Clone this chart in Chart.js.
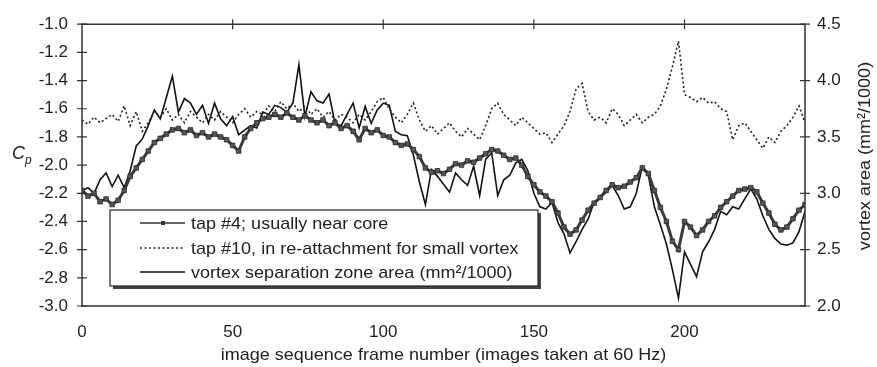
<!DOCTYPE html>
<html>
<head>
<meta charset="utf-8">
<script src="https://cdn.jsdelivr.net/npm/chart.js@4.4.1/dist/chart.umd.min.js"></script>
<style>
  html, body { margin: 0; padding: 0; background: #fff; }
  canvas { display: block; }
</style>
</head>
<body>
<canvas id="chart" width="877" height="367"></canvas>
<script>
// Frame index (every second image frame)
const frames = [];
for (let f = 0; f <= 240; f += 2) frames.push(f);

// Pressure coefficient at tap #4 (usually near the vortex core)
const tap4Cp = [
  -2.18, -2.22, -2.20, -2.26, -2.24, -2.28, -2.25, -2.18, -2.08, -2.02,
  -1.96, -1.90, -1.84, -1.81, -1.78, -1.75, -1.74, -1.77, -1.75, -1.79,
  -1.77, -1.80, -1.78, -1.80, -1.82, -1.86, -1.90, -1.80, -1.74, -1.70,
  -1.67, -1.66, -1.64, -1.66, -1.63, -1.66, -1.68, -1.65, -1.68, -1.70,
  -1.68, -1.72, -1.70, -1.74, -1.72, -1.76, -1.82, -1.74, -1.77, -1.75,
  -1.79, -1.80, -1.84, -1.86, -1.85, -1.89, -1.94, -2.02, -2.05, -2.04,
  -2.06, -2.03, -1.99, -2.00, -1.97, -1.98, -1.95, -1.92, -1.89, -1.90,
  -1.93, -1.96, -1.95, -2.00, -2.08, -2.14, -2.19, -2.22, -2.26, -2.34,
  -2.44, -2.49, -2.46, -2.39, -2.32, -2.27, -2.23, -2.18, -2.14, -2.16,
  -2.15, -2.12, -2.09, -2.02, -2.06, -2.18, -2.30, -2.40, -2.54, -2.60,
  -2.40, -2.44, -2.50, -2.46, -2.40, -2.36, -2.30, -2.26, -2.22, -2.18,
  -2.17, -2.16, -2.19, -2.27, -2.34, -2.42, -2.46, -2.44, -2.38, -2.32,
  -2.28
];

// Pressure coefficient at tap #10 (re-attachment region of the small vortex)
const tap10Cp = [
  -1.68, -1.71, -1.66, -1.70, -1.67, -1.64, -1.69, -1.58, -1.72, -1.62,
  -1.76, -1.70, -1.62, -1.66, -1.60, -1.68, -1.64, -1.70, -1.62, -1.66,
  -1.70, -1.64, -1.68, -1.62, -1.66, -1.70, -1.64, -1.60, -1.66, -1.62,
  -1.64, -1.58, -1.62, -1.55, -1.60, -1.56, -1.62, -1.58, -1.64, -1.60,
  -1.66, -1.62, -1.68, -1.64, -1.66, -1.70, -1.64, -1.68, -1.62, -1.55,
  -1.52, -1.60, -1.66, -1.70, -1.64, -1.56, -1.68, -1.76, -1.72, -1.78,
  -1.74, -1.70, -1.76, -1.80, -1.74, -1.78, -1.82, -1.72, -1.60, -1.56,
  -1.64, -1.68, -1.72, -1.66, -1.70, -1.74, -1.78, -1.77, -1.84, -1.78,
  -1.72, -1.62, -1.46, -1.42, -1.62, -1.68, -1.66, -1.70, -1.60, -1.64,
  -1.72, -1.68, -1.64, -1.70, -1.66, -1.64, -1.58, -1.46, -1.30, -1.12,
  -1.50, -1.52, -1.55, -1.52, -1.56, -1.55, -1.60, -1.62, -1.82, -1.72,
  -1.70, -1.76, -1.82, -1.88, -1.80, -1.84, -1.76, -1.72, -1.66, -1.58,
  -1.70
];

// Vortex separation zone area (mm^2/1000), right-hand axis
const vortexArea = [
  3.02, 3.05, 3.00, 3.12, 3.18, 3.06, 3.16, 3.05, 3.20, 3.42,
  3.48, 3.60, 3.74, 3.66, 3.85, 4.04, 3.72, 3.84, 3.80, 3.70,
  3.78, 3.62, 3.80, 3.66, 3.60, 3.68, 3.52, 3.56, 3.60, 3.58,
  3.72, 3.70, 3.78, 3.76, 3.72, 3.80, 4.14, 3.68, 3.90, 3.82,
  3.80, 3.88, 3.62, 3.60, 3.70, 3.80, 3.58, 3.77, 3.62, 3.74,
  3.80, 3.78, 3.55, 3.52, 3.51, 3.34, 3.10, 2.90, 3.21, 3.15,
  3.08, 3.01, 3.18, 3.12, 3.07, 3.24, 2.98, 3.30, 3.36, 2.98,
  3.12, 3.16, 3.27, 3.30, 3.20, 3.00, 2.88, 2.86, 2.92, 2.74,
  2.64, 2.47, 2.57, 2.68, 2.77, 2.92, 2.96, 3.01, 3.07, 2.98,
  2.86, 2.88, 3.00, 3.24, 3.16, 2.88, 2.72, 2.55, 2.32, 2.07,
  2.48, 2.37, 2.26, 2.48, 2.57, 2.68, 2.84, 2.81, 2.88, 2.86,
  2.95, 3.04, 2.95, 2.80, 2.68, 2.60, 2.55, 2.54, 2.56, 2.66,
  2.84
];

// Axis tick values
const frameTicks = [0, 50, 100, 150, 200];
const topFrameTicks = [50, 100, 150, 200];
const cpTicks = [-3.0, -2.8, -2.6, -2.4, -2.2, -2.0, -1.8, -1.6, -1.4, -1.2, -1.0];
const areaTicks = [2.0, 2.5, 3.0, 3.5, 4.0, 4.5];

const legendLabels = [
  'tap #4; usually near core',
  'tap #10, in re-attachment for small vortex',
  'vortex separation zone area (mm\u00B2/1000)'
];

const FONT = '"Liberation Sans", Arial, Helvetica, sans-serif';
const INK = '#222';
const STRETCH = 1.06; // slightly wide lettering

const toPoints = vals => frames.map((f, i) => ({ x: f, y: vals[i] }));
const setTicks = list => scale => { scale.ticks = list.map(v => ({ value: v })); };

// draws text widened horizontally around its anchor
function wideText(ctx, text, x, y, align) {
  ctx.save();
  ctx.translate(x, y);
  ctx.scale(STRETCH, 1);
  ctx.textAlign = align;
  ctx.fillText(text, 0, 0);
  ctx.restore();
}

// Frame, crossing tick marks, axis titles and the boxed legend
const decorations = {
  id: 'decorations',
  afterDatasetsDraw(chart) {
    const { ctx, chartArea: a, scales } = chart;
    ctx.save();

    // plot frame
    ctx.strokeStyle = '#333';
    ctx.lineWidth = 1.5;
    ctx.beginPath();
    ctx.moveTo(a.left, a.top); ctx.lineTo(a.right, a.top);
    ctx.moveTo(a.left, a.bottom); ctx.lineTo(a.right, a.bottom);
    ctx.moveTo(a.left, a.top - 1); ctx.lineTo(a.left, a.bottom + 1);
    ctx.moveTo(a.right, a.top - 1); ctx.lineTo(a.right, a.bottom + 1);
    ctx.stroke();

    // tick marks crossing the axes
    ctx.lineWidth = 1.2;
    ctx.beginPath();
    cpTicks.forEach(v => {
      const y = scales.y.getPixelForValue(v);
      ctx.moveTo(a.left - 5, y); ctx.lineTo(a.left + 5, y);
    });
    areaTicks.forEach(v => {
      const y = scales.y2.getPixelForValue(v);
      ctx.moveTo(a.right - 5, y); ctx.lineTo(a.right + 5, y);
    });
    topFrameTicks.forEach(v => {
      const x = scales.x.getPixelForValue(v);
      ctx.moveTo(x, a.top - 5); ctx.lineTo(x, a.top + 5);
    });
    ctx.stroke();

    // axis titles
    ctx.fillStyle = INK;
    ctx.textBaseline = 'alphabetic';
    ctx.textAlign = 'left';
    ctx.font = 'italic 18px ' + FONT;
    ctx.fillText('C', 12, 159);
    ctx.font = 'italic 12px ' + FONT;
    ctx.fillText('p', 25, 164);

    ctx.font = '17px ' + FONT;
    ctx.textBaseline = 'middle';
    wideText(ctx, 'image sequence frame number (images taken at 60 Hz)', (a.left + a.right) / 2, 355, 'center');

    ctx.save();
    ctx.translate(865, 156);
    ctx.rotate(-Math.PI / 2);
    ctx.font = '17px ' + FONT;
    wideText(ctx, 'vortex area (mm\u00B2/1000)', 0, 0, 'center');
    ctx.restore();

    // legend box with drop shadow
    const bx = 110, by = 210, bw = 428, bh = 76;
    ctx.fillStyle = '#444';
    ctx.fillRect(bx + 3, by + 3, bw, bh);
    ctx.fillStyle = '#fff';
    ctx.fillRect(bx, by, bw, bh);
    ctx.strokeStyle = '#222';
    ctx.lineWidth = 1.2;
    ctx.strokeRect(bx, by, bw, bh);

    const rows = [223, 248, 272];
    const ds = chart.data.datasets;
    rows.forEach((ry, i) => {
      const d = ds[i];
      ctx.save();
      ctx.strokeStyle = i === 0 ? '#333' : d.borderColor;
      ctx.lineWidth = 1.6;
      ctx.setLineDash(d.borderDash || []);
      ctx.beginPath();
      ctx.moveTo(140, ry); ctx.lineTo(185, ry);
      ctx.stroke();
      if (i === 0) {
        ctx.fillStyle = '#333';
        ctx.fillRect(161, ry - 2, 4, 4);
      }
      ctx.restore();
      ctx.fillStyle = INK;
      ctx.font = '17px ' + FONT;
      ctx.textBaseline = 'middle';
      wideText(ctx, legendLabels[i], 191, ry + 1, 'left');
    });

    ctx.restore();
  }
};

new Chart(document.getElementById('chart'), {
  type: 'line',
  data: {
    datasets: [
      {
        label: legendLabels[0],
        data: toPoints(tap4Cp),
        yAxisID: 'y',
        borderColor: '#3a3a3a',
        borderWidth: 3,
        pointStyle: 'rect',
        pointRadius: 3.2,
        pointBackgroundColor: '#555',
        pointBorderColor: '#2a2a2a',
        pointBorderWidth: 0.8,
        tension: 0
      },
      {
        label: legendLabels[1],
        data: toPoints(tap10Cp),
        yAxisID: 'y',
        borderColor: '#222',
        borderWidth: 1.6,
        borderDash: [2, 2.5],
        pointRadius: 0,
        tension: 0
      },
      {
        label: legendLabels[2],
        data: toPoints(vortexArea),
        yAxisID: 'y2',
        borderColor: '#111',
        borderWidth: 1.6,
        pointRadius: 0,
        tension: 0
      }
    ]
  },
  options: {
    responsive: false,
    animation: false,
    events: [],
    layout: { padding: { top: 19, left: 0, right: 0, bottom: 0 } },
    plugins: { legend: { display: false }, tooltip: { enabled: false } },
    scales: {
      x: {
        type: 'linear',
        position: 'bottom',
        min: 0,
        max: 240,
        afterBuildTicks: setTicks(frameTicks),
        afterFit: s => { s.height = 61; },
        grid: { display: false, drawTicks: false },
        border: { display: false },
        ticks: { padding: 16, color: INK, font: { family: FONT, size: 17 }, maxRotation: 0 }
      },
      y: {
        type: 'linear',
        position: 'left',
        min: -3,
        max: -1,
        afterBuildTicks: setTicks(cpTicks),
        afterFit: s => { s.width = 82; },
        grid: { display: false, drawTicks: false },
        border: { display: false },
        ticks: { padding: 14, color: INK, font: { family: FONT, size: 17 }, callback: v => v.toFixed(1) }
      },
      y2: {
        type: 'linear',
        position: 'right',
        min: 2,
        max: 4.5,
        afterBuildTicks: setTicks(areaTicks),
        afterFit: s => { s.width = 72; },
        grid: { display: false, drawTicks: false },
        border: { display: false },
        ticks: { padding: 12, color: INK, font: { family: FONT, size: 17 }, callback: v => v.toFixed(1) }
      }
    }
  },
  plugins: [decorations]
});
</script>
</body>
</html>
